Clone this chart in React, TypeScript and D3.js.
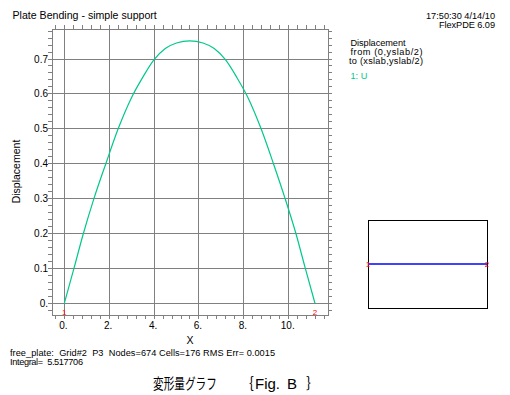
import React from 'react';
import * as d3 from 'd3';

// ---- data ----
const curveX = [0, 0.43, 0.85, 1.32, 1.85, 2.4, 3.0, 3.5, 4.0, 4.5, 5.0, 5.59, 6.18, 6.68, 7.18, 7.68, 8.18, 8.77, 9.32, 9.84, 10.32, 10.74, 11.17];
const curveY = [0, 0.1, 0.2, 0.3, 0.4, 0.5, 0.59, 0.648, 0.698, 0.73, 0.746, 0.752, 0.746, 0.73, 0.698, 0.648, 0.59, 0.5, 0.4, 0.3, 0.2, 0.1, 0];
const xTickValues = [0, 2, 4, 6, 8, 10];
const xTickLabels = ['0.', '2.', '4.', '6.', '8.', '10.'];
const yTickValues = [0, 0.1, 0.2, 0.3, 0.4, 0.5, 0.6, 0.7];
const yTickLabels = ['0.', '0.1', '0.2', '0.3', '0.4', '0.5', '0.6', '0.7'];
const markerX = [0, 11.17];
const markerLabels = ['1', '2'];
const legendLines = ['Displacement', 'from (0,yslab/2)', 'to (xslab,yslab/2)'];
const legendWidths = [55, 72, 74];
const seriesLabel = '1: U';
const titleText = 'Plate Bending - simple support';
const stampLines = ['17:50:30 4/14/10', 'FlexPDE 6.09'];
const stampWidths = [69, 56];
const xTitle = 'X';
const yTitle = 'Displacement';
const footerLines = ['free_plate:  Grid#2  P3  Nodes=674 Cells=176 RMS Err= 0.0015', 'Integral=  5.517706'];
const footerWidths = [265, 73];
const captionJa = '変形量グラフ';
const captionParts = ['｛', 'Fig.', 'B', '｝'];

const W = 510;
const H = 395;
const GREEN = '#00c88c';
const GRID = '#808080';
const FONT = '"Liberation Sans", Arial, sans-serif';
const CJK = '"Noto Sans CJK JP", sans-serif';
const SMALL = 9.2;

export default function App() {
  const x = d3.scaleLinear().domain([-0.548, 11.75]).range([52, 328]);
  const y = d3.scaleLinear().domain([-0.0335, 0.786]).range([315, 29]);
  const [x0, x1] = x.range();
  const [y0, y1] = y.range();

  const xMinor = d3.range(-0.4, 11.7, 0.4);
  const yMinor = d3.range(-0.02, 0.785, 0.02);

  const pts: [number, number][] = curveX.map((v, i) => [v, curveY[i]]);
  const line = d3
    .line<[number, number]>()
    .x((d) => x(d[0]))
    .y((d) => y(d[1]))
    .curve(d3.curveMonotoneX);

  // inset
  const xi = d3.scaleLinear().domain([0, 11.17]).range([368, 487]);
  const yi = d3.scaleLinear().domain([0, 1]).range([308, 220]);

  const tick = 4;

  return (
    <svg
      width={W}
      height={H}
      viewBox={`0 0 ${W} ${H}`}
      style={{ position: 'absolute', left: 0, top: 0, background: '#fff', fontFamily: FONT }}
    >
      <rect x={0} y={0} width={W} height={H} fill="#fff" />

      {/* minor ticks */}
      <g stroke={GRID} strokeWidth={1} shapeRendering="crispEdges">
        {xMinor.map((v, i) => (
          <g key={'xm' + i}>
            <line x1={x(v)} x2={x(v)} y1={y1 - tick} y2={y1} />
            <line x1={x(v)} x2={x(v)} y1={y0} y2={y0 + tick} />
          </g>
        ))}
        {yMinor.map((v, i) => (
          <g key={'ym' + i}>
            <line x1={x0 - tick} x2={x0} y1={y(v)} y2={y(v)} />
            <line x1={x1} x2={x1 + tick} y1={y(v)} y2={y(v)} />
          </g>
        ))}
        {/* frame */}
        <rect x={x0} y={y1} width={x1 - x0} height={y0 - y1} fill="none" />
        {/* major grid */}
        {xTickValues.map((v) => (
          <line key={'xg' + v} x1={x(v)} x2={x(v)} y1={y1 - tick} y2={y0 + tick} />
        ))}
        {yTickValues.map((v) => (
          <line key={'yg' + v} x1={x0 - tick} x2={x1 + tick} y1={y(v)} y2={y(v)} />
        ))}
      </g>

      {/* curve */}
      <path d={line(pts) || ''} fill="none" stroke={GREEN} strokeWidth={1.2} />

      {/* end markers */}
      {markerX.map((v, i) => (
        <text key={'mk' + i} x={x(v)} y={y(0) + 12} fontSize={8} fill="#ff0000" textAnchor="middle">
          {markerLabels[i]}
        </text>
      ))}

      {/* tick labels */}
      {xTickValues.map((v, i) => (
        <text key={'xl' + v} x={x(v) - 1} y={328.5} fontSize={10} textAnchor="middle" fill="#000">
          {xTickLabels[i]}
        </text>
      ))}
      {yTickValues.map((v, i) => (
        <text key={'yl' + v} x={48} y={y(v) + 3.5} fontSize={10} textAnchor="end" fill="#000">
          {yTickLabels[i]}
        </text>
      ))}

      {/* axis titles */}
      <text x={190} y={344} fontSize={10.5} textAnchor="middle" fill="#000">{xTitle}</text>
      <text transform="translate(20,171.5) rotate(-90)" fontSize={10.5} textAnchor="middle" fill="#000">{yTitle}</text>

      {/* title and stamp */}
      <text x={12.5} y={19} fontSize={10.6} fill="#000">{titleText}</text>
      {stampLines.map((s, i) => (
        <text key={'st' + i} x={495} y={18.5 + i * 9.3} fontSize={SMALL} textAnchor="end" textLength={stampWidths[i]} lengthAdjust="spacing" fill="#000">{s}</text>
      ))}

      {/* legend */}
      {legendLines.map((s, i) => (
        <text key={'lg' + i} x={i === 2 ? 349 : 350.5} y={45.5 + i * 9.3} fontSize={SMALL} textLength={legendWidths[i]} lengthAdjust="spacing" fill="#000">{s}</text>
      ))}
      <text x={350.5} y={79} fontSize={SMALL} fill={GREEN}>{seriesLabel}</text>

      {/* inset */}
      <rect x={xi(0)} y={yi(1)} width={xi(11.17) - xi(0)} height={yi(0) - yi(1)} fill="none" stroke="#000" strokeWidth={1} shapeRendering="crispEdges" />
      <line x1={xi(0)} x2={xi(11.17)} y1={yi(0.5)} y2={yi(0.5)} stroke="#0000ff" strokeWidth={1.3} />
      {markerX.map((v, i) => (
        <text key={'im' + i} x={xi(v)} y={yi(0.5) + 3} fontSize={8} fill="#ff0000" textAnchor="middle">
          {markerLabels[i]}
        </text>
      ))}

      {/* footer */}
      {footerLines.map((s, i) => (
        <text key={'ft' + i} x={10} y={355.5 + i * 9.5} fontSize={SMALL} textLength={footerWidths[i]} lengthAdjust="spacing" fill="#000" style={{ whiteSpace: 'pre' }}>{s}</text>
      ))}

      {/* caption */}
      <text transform="translate(153,389) scale(0.71,1)" fontSize={15} fontFamily={CJK} fill="#000">{captionJa}</text>
      <text x={239} y={389} fontSize={15} fontFamily={CJK} fill="#000">{captionParts[0]}</text>
      <text x={255} y={389} fontSize={15} fill="#000">{captionParts[1]}</text>
      <text x={287} y={389} fontSize={15} fill="#000">{captionParts[2]}</text>
      <text x={306} y={389} fontSize={15} fontFamily={CJK} fill="#000">{captionParts[3]}</text>
    </svg>
  );
}
